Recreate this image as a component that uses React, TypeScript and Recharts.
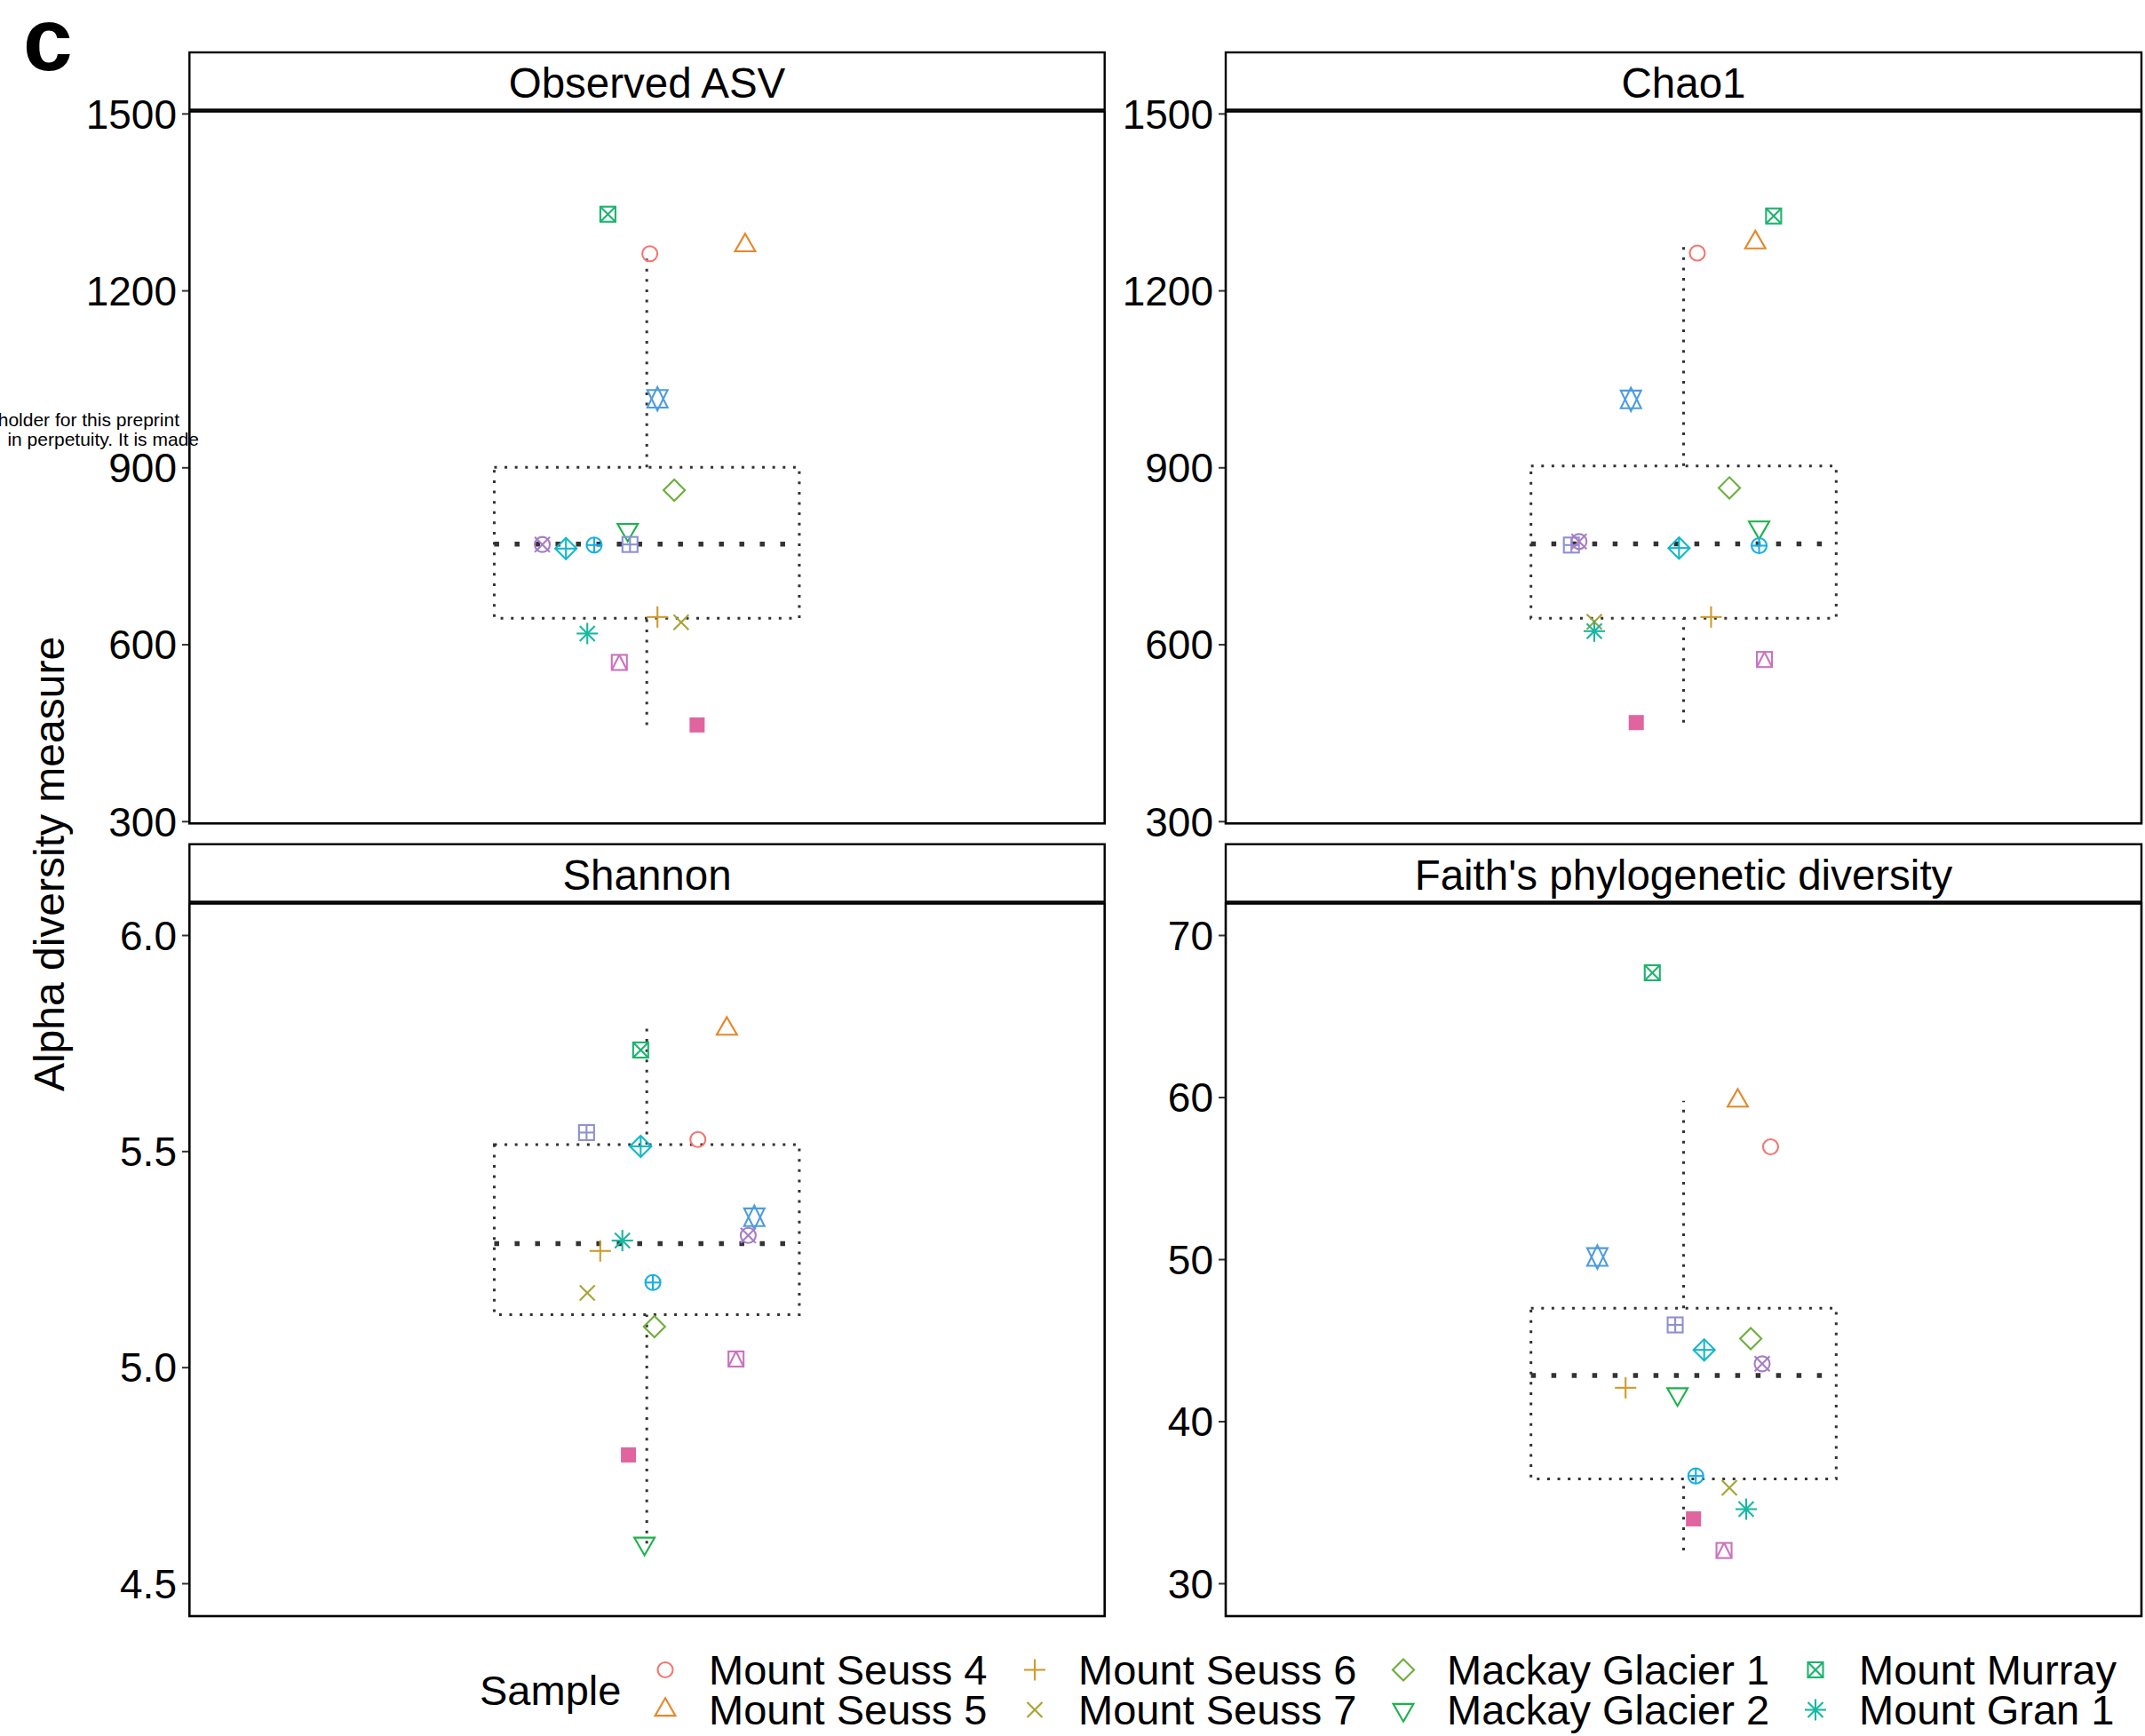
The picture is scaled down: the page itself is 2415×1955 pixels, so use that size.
import React from 'react';
import { ScatterChart, Scatter, XAxis, YAxis, ReferenceArea, ReferenceLine } from 'recharts';

const FONT = '"Liberation Sans", Arial, Helvetica, sans-serif';

// ---- samples (pch code, colour) ----
const shapeCodes = [1, 2, 3, 4, 5, 6, 7, 8, 9, 10, 11, 12, 13, 14, 15];
const sampleColors = [
  '#F4766E', '#E5872A', '#CF9B2A', '#A8A332', '#6DAE3C', '#1DB24A', '#1BB36E', '#16B8A0',
  '#14B8C8', '#17AFE8', '#4D9CE0', '#8E90D4', '#A77DC5', '#CB72BE', '#E0659F',
];
const legendNames = [
  'Mount Seuss 4', 'Mount Seuss 5', 'Mount Seuss 6', 'Mount Seuss 7',
  'Mackay Glacier 1', 'Mackay Glacier 2', 'Mount Murray', 'Mount Gran 1',
];

// ---- Observed ASV ----
const observedValues = [1263, 1277, 647, 638, 862, 795, 1330, 619, 763, 769, 1017, 770, 770, 570, 464];
const observedJitter = [1.004, 1.129, 1.014, 1.045, 1.036, 0.975, 0.949, 0.922, 0.894, 0.931, 1.014, 0.978, 0.863, 0.964, 1.066];
const observedBox = [464, 645, 770.5, 901, 1264];

// ---- Chao1 ----
const chaoValues = [1264, 1282, 647, 639, 866, 799, 1327, 623, 764, 768, 1016, 769, 775, 575, 468];
const chaoJitter = [1.018, 1.094, 1.036, 0.883, 1.06, 1.099, 1.118, 0.883, 0.994, 1.099, 0.931, 0.853, 0.863, 1.106, 0.938];
const chaoBox = [468, 645, 771, 903, 1282];

// ---- Shannon ----
const shannonValues = [5.528, 5.784, 5.27, 5.173, 5.095, 4.593, 5.735, 5.294, 5.512, 5.197, 5.348, 5.544, 5.306, 5.02, 4.798];
const shannonJitter = [1.067, 1.105, 0.939, 0.922, 1.01, 0.997, 0.992, 0.968, 0.992, 1.008, 1.141, 0.921, 1.133, 1.117, 0.976];
const shannonBox = [4.593, 5.1225, 5.287, 5.516, 5.784];

// ---- Faith's PD ----
const faithValues = [56.96, 59.8, 42.09, 35.92, 45.12, 41.7, 67.7, 34.6, 44.43, 36.65, 50.16, 45.97, 43.57, 32.05, 34.0];
const faithJitter = [1.114, 1.071, 0.924, 1.06, 1.088, 0.992, 0.959, 1.082, 1.027, 1.016, 0.887, 0.989, 1.103, 1.053, 1.013];
const faithBox = [32.05, 36.46, 42.85, 47.0, 59.8];

const panelTitles = ['Observed ASV', 'Chao1', 'Shannon', "Faith's phylogenetic diversity"];
const richnessTicks = [300, 600, 900, 1200, 1500];
const shannonTicks = [4.5, 5.0, 5.5, 6.0];
const faithTicks = [30, 40, 50, 60, 70];

// ---- layout ----
const colX = [213.3, 1380];
const colW = [1030.4, 1031];
const stripTop = [59, 950.7];
const plotTop = [125, 1017];
const plotBottom = [927.3, 1820];
const AXW = 180;
const PAD = 40;

function Marker({ cx, cy, code, color, r = 8.5 }: any) {
  const sw = 2.1;
  const st = { stroke: color, strokeWidth: sw, fill: 'none' };
  const s2 = Math.SQRT2 * r;
  const els: any[] = [];
  let k = 0;
  const L = (x1: number, y1: number, x2: number, y2: number) =>
    els.push(<line key={k++} x1={cx + x1} y1={cy + y1} x2={cx + x2} y2={cy + y2} {...st} />);
  const P = (pts: number[][]) =>
    els.push(<polygon key={k++} points={pts.map(p => `${cx + p[0]},${cy + p[1]}`).join(' ')} {...st} />);
  const C = (rad: number) => els.push(<circle key={k++} cx={cx} cy={cy} r={rad} {...st} />);
  const R = () => els.push(<rect key={k++} x={cx - r} y={cy - r} width={2 * r} height={2 * r} {...st} />);
  const X = () => { L(-r, -r, r, r); L(-r, r, r, -r); };
  const PL = (h: number) => { L(-h, 0, h, 0); L(0, -h, 0, h); };
  const a = 1.5551 * r, b = 0.7776 * r, w = 1.3468 * r, yc = 1.1664 * r;
  switch (code) {
    case 1: C(r); break;
    case 2: P([[0, -a], [w, b], [-w, b]]); break;
    case 3: PL(s2); break;
    case 4: X(); break;
    case 5: P([[0, -s2], [s2, 0], [0, s2], [-s2, 0]]); break;
    case 6: P([[0, a], [w, -b], [-w, -b]]); break;
    case 7: R(); X(); break;
    case 8: X(); PL(s2); break;
    case 9: P([[0, -s2], [s2, 0], [0, s2], [-s2, 0]]); PL(s2); break;
    case 10: C(r); PL(r); break;
    case 11: P([[0, a], [w, -yc], [-w, -yc]]); P([[0, -a], [w, yc], [-w, yc]]); break;
    case 12: R(); PL(r); break;
    case 13: C(r); X(); break;
    case 14: R(); L(-r, r, 0, -r); L(0, -r, r, r); break;
    case 15:
      els.push(<rect key={k++} x={cx - r} y={cy - r} width={2 * r} height={2 * r} fill={color} stroke="none" />);
      break;
    default: C(r);
  }
  return <g>{els}</g>;
}

function Panel({ col, row, values, jitter, box, domain, ticks, fmt }: any) {
  const data = values.map((v: number, i: number) => ({ x: jitter[i], y: v, s: i }));
  const width = colW[col];
  const height = plotBottom[row] - plotTop[row];
  const boxStroke = { stroke: '#333333', strokeWidth: 3, strokeDasharray: '3 8.6' };
  return (
    <div style={{ position: 'absolute', left: colX[col] - AXW, top: plotTop[row] - PAD }}>
      <ScatterChart width={width + AXW} height={height + 2 * PAD} margin={{ top: PAD, right: 0, bottom: PAD, left: 0 }}>
        <XAxis type="number" dataKey="x" domain={[0.4, 1.6]} allowDataOverflow hide />
        <YAxis
          type="number"
          dataKey="y"
          domain={domain}
          allowDataOverflow
          ticks={ticks}
          interval={0}
          width={AXW}
          axisLine={false}
          tickLine={{ stroke: '#333333', strokeWidth: 2 }}
          tickSize={8}
          tickMargin={6}
          tick={{ fill: '#000', fontSize: 46, fontFamily: FONT }}
          tickFormatter={fmt}
        />
        <ReferenceArea x1={0.8} x2={1.2} y1={box[1]} y2={box[3]} fill="none" fillOpacity={0} {...boxStroke} />
        <ReferenceLine segment={[{ x: 1, y: box[3] }, { x: 1, y: box[4] }]} {...boxStroke} />
        <ReferenceLine segment={[{ x: 1, y: box[0] }, { x: 1, y: box[1] }]} {...boxStroke} />
        <ReferenceLine
          segment={[{ x: 0.8, y: box[2] }, { x: 1.2, y: box[2] }]}
          stroke="#333333"
          strokeWidth={5.5}
          strokeDasharray="5.5 17.5"
        />
        <Scatter
          data={data}
          isAnimationActive={false}
          shape={(p: any) => (
            <Marker cx={p.cx} cy={p.cy} code={shapeCodes[p.payload.s]} color={sampleColors[p.payload.s]} />
          )}
        />
      </ScatterChart>
    </div>
  );
}

export default function App() {
  const legendKeyX = [749, 1165, 1580, 2044];
  const legendRowY = [1880.5, 1925.5];
  const frames: any[] = [];
  [0, 1].forEach(row =>
    [0, 1].forEach(col => {
      const idx = row * 2 + col;
      const x = colX[col];
      const w = colW[col];
      frames.push(
        <g key={'f' + idx}>
          <rect x={x} y={stripTop[row]} width={w} height={plotTop[row] - stripTop[row] - 1.5} fill="none" stroke="#000" strokeWidth={2.4} />
          <text x={x + w / 2} y={(stripTop[row] + plotTop[row]) / 2 + 18} textAnchor="middle" fontSize={47.5} fontFamily={FONT} fill="#000">
            {panelTitles[idx]}
          </text>
          <rect x={x} y={plotTop[row] + 0.5} width={w} height={plotBottom[row] - plotTop[row] - 0.5} fill="none" stroke="#000" strokeWidth={2.6} />
        </g>
      );
    })
  );
  return (
    <div style={{ position: 'absolute', left: 0, top: 0, width: 2415, height: 1955, background: '#fff', overflow: 'hidden', fontFamily: FONT }}>
      <Panel col={0} row={0} values={observedValues} jitter={observedJitter} box={observedBox} domain={[297, 1505]} ticks={richnessTicks} />
      <Panel col={1} row={0} values={chaoValues} jitter={chaoJitter} box={chaoBox} domain={[297, 1505]} ticks={richnessTicks} />
      <Panel col={0} row={1} values={shannonValues} jitter={shannonJitter} box={shannonBox} domain={[4.425, 6.075]} ticks={shannonTicks} fmt={(v: number) => v.toFixed(1)} />
      <Panel col={1} row={1} values={faithValues} jitter={faithJitter} box={faithBox} domain={[28, 72]} ticks={faithTicks} />
      <svg width={2415} height={1955} style={{ position: 'absolute', left: 0, top: 0, pointerEvents: 'none' }}>
        {frames}
        <text x={26} y={79} fontSize={100} fontWeight="bold" fontFamily={FONT} fill="#000">c</text>
        <text x={202} y={480} fontSize={21} textAnchor="end" fontFamily={FONT} fill="#000">holder for this preprint</text>
        <text x={224} y={502} fontSize={21} textAnchor="end" fontFamily={FONT} fill="#000">in perpetuity. It is made</text>
        <text transform="translate(72.4,973) rotate(-90)" textAnchor="middle" fontSize={48} fontFamily={FONT} fill="#000">
          Alpha diversity measure
        </text>
        <text x={540} y={1903} dy="0.355em" fontSize={47} fontFamily={FONT} fill="#000">Sample</text>
        {legendNames.map((name, i) => {
          const colI = Math.floor(i / 2);
          const rowI = i % 2;
          const kx = legendKeyX[colI];
          const ky = legendRowY[rowI];
          return (
            <g key={'l' + i}>
              <Marker cx={kx} cy={ky} code={shapeCodes[i]} color={sampleColors[i]} />
              <text x={kx + 49} y={ky} dy="0.355em" fontSize={47} fontFamily={FONT} fill="#000">{name}</text>
            </g>
          );
        })}
      </svg>
    </div>
  );
}
